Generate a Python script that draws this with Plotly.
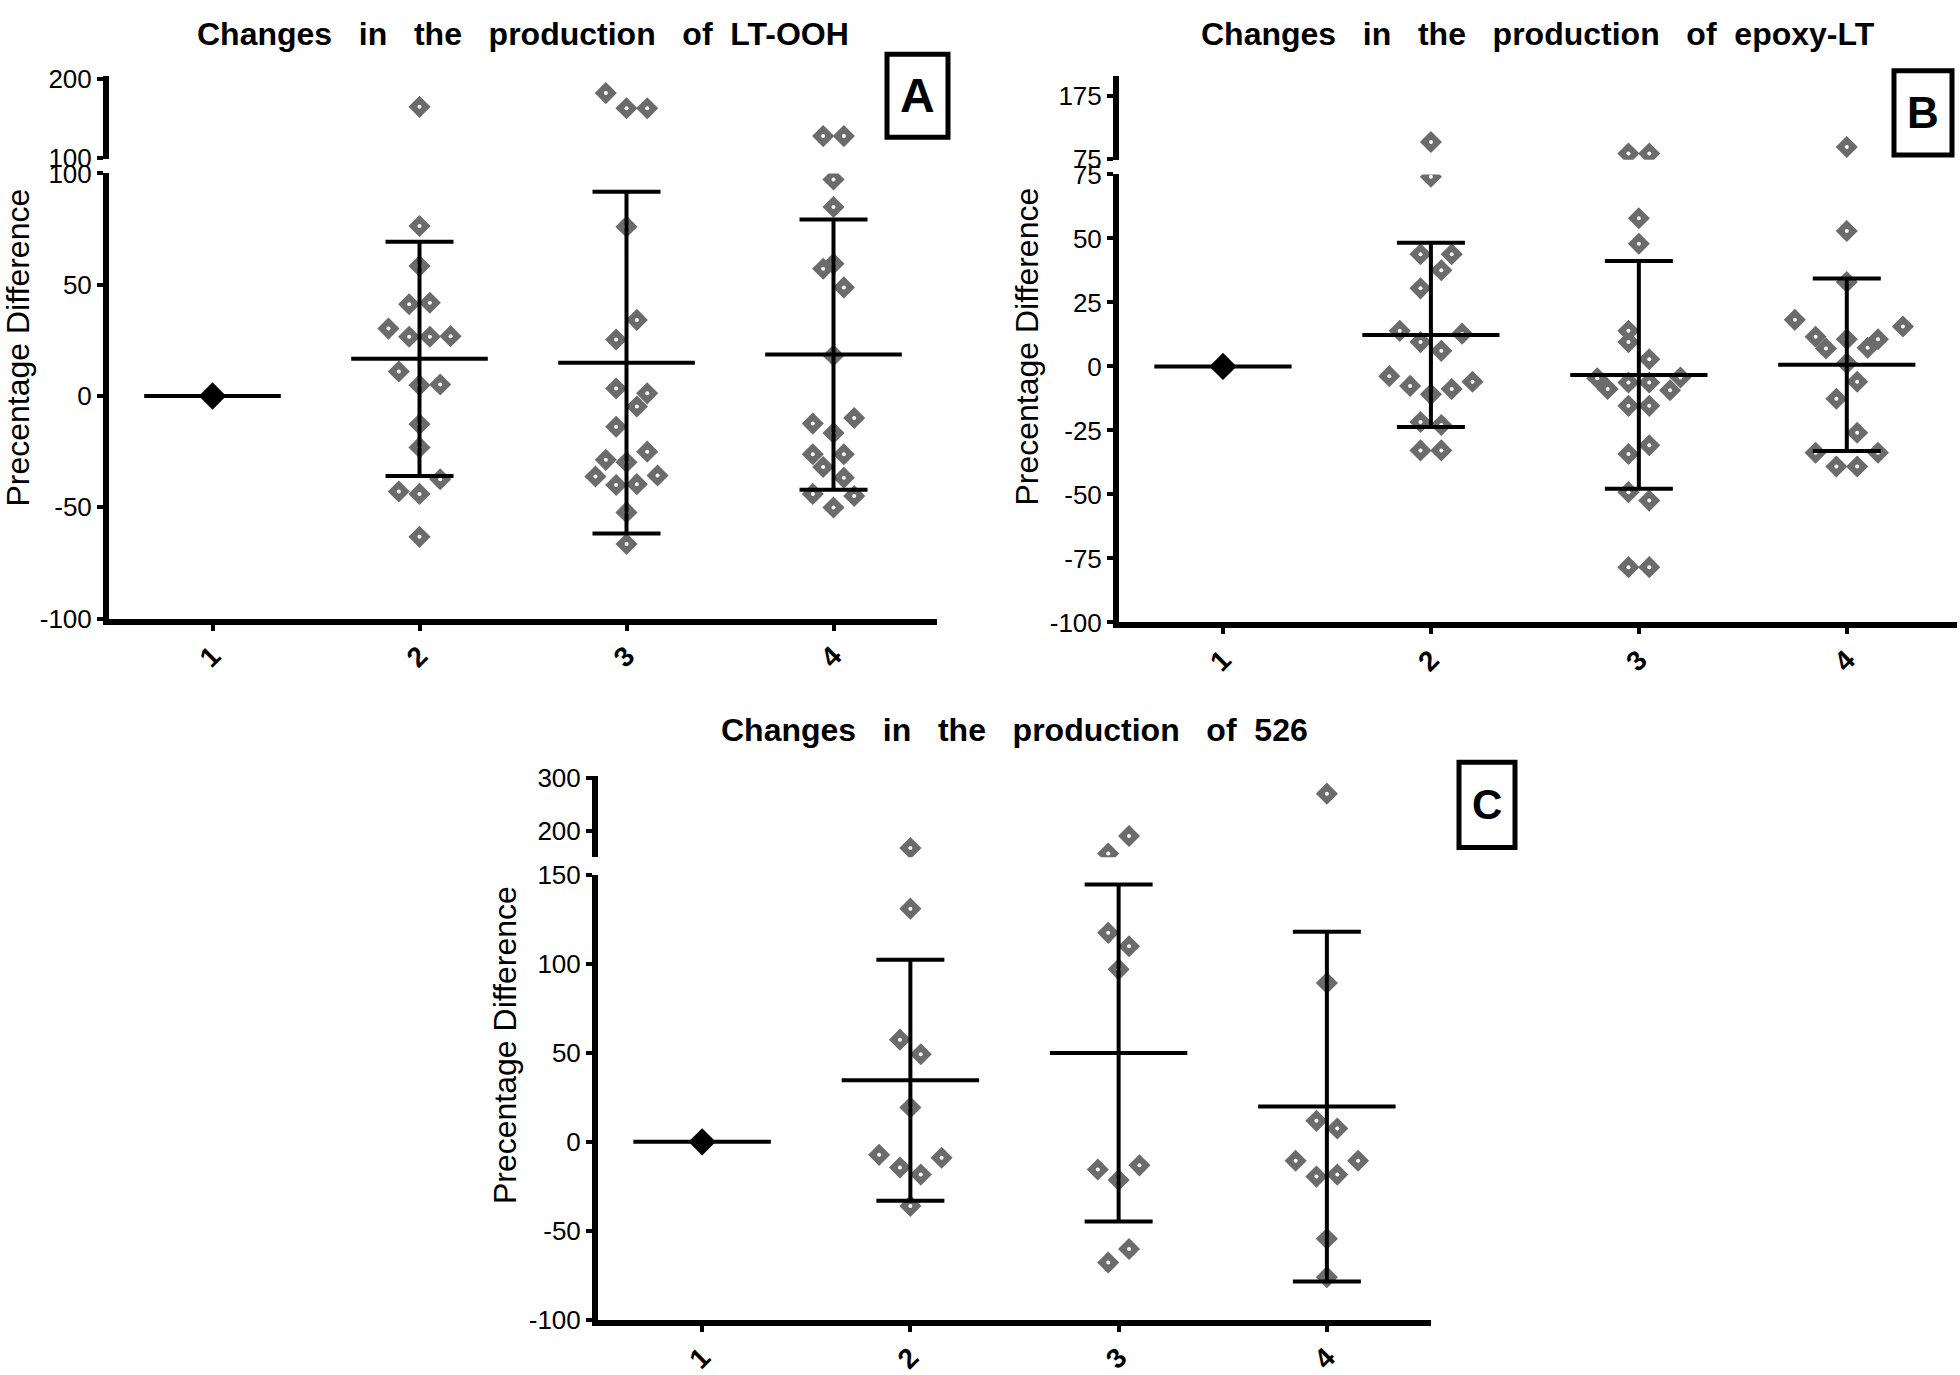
import plotly.graph_objects as go

W, H = 1960, 1375

# ---------------- data ----------------
CATEGORIES = ["1", "2", "3", "4"]
CTRL_VALUE = [0.0]

# Panel A : LT-OOH
A_g2_vals = [164.7, 76.4, 58.4, 41.2, 41.9, 30.3, 26.6, 26.6, 26.9, 11.0, 4.8, 5.2, -12.7, -23.1, -37.4, -42.9, -44.0, -63.3]
A_g2_x = [2.0, 2.0, 2.0, 1.95, 2.05, 1.85, 1.95, 2.05, 2.15, 1.9, 2.0, 2.1, 2.0, 2.0, 2.1, 1.9, 2.0, 2.0]
A_g3_vals = [182.0, 163.0, 163.0, 76.1, 34.2, 25.4, 3.4, 1.2, -4.7, -13.8, -25.0, -28.7, -29.8, -36.2, -35.7, -40.0, -39.6, -52.3, -66.5]
A_g3_x = [2.9, 3.0, 3.1, 3.0, 3.05, 2.95, 2.95, 3.1, 3.05, 2.95, 3.1, 2.9, 3.0, 2.85, 3.15, 2.95, 3.05, 3.0, 3.0]
A_g4_vals = [127.9, 127.9, 97.3, 84.9, 59.4, 57.2, 48.8, 18.2, -9.9, -12.4, -16.6, -26.2, -26.2, -31.9, -36.7, -44.0, -44.9, -50.1]
A_g4_x = [3.95, 4.05, 4.0, 4.0, 4.0, 3.95, 4.05, 4.0, 4.1, 3.9, 4.0, 3.9, 4.05, 3.95, 4.05, 3.9, 4.1, 4.0]
A_mean = [0.0, 16.7, 15.0, 18.6]
A_sd = [0.0, 52.6, 76.8, 60.7]

# Panel B : epoxy-LT
B_g2_vals = [102.3, 74.1, 43.8, 43.8, 37.6, 30.5, 13.9, 12.8, 9.5, 6.1, -3.8, -7.6, -8.8, -6.0, -10.9, -21.7, -22.9, -32.8, -32.8]
B_g2_x = [2.0, 2.0, 1.95, 2.1, 2.05, 1.95, 1.85, 2.15, 1.95, 2.05, 1.8, 1.9, 2.1, 2.2, 2.0, 1.95, 2.05, 1.95, 2.05]
B_g3_vals = [84.1, 84.1, 57.9, 47.9, 13.9, 9.5, 2.8, -4.6, -8.8, -6.3, -6.3, -9.3, -4.3, -15.4, -15.4, -30.8, -34.2, -49.1, -52.4, -78.4, -78.4]
B_g3_x = [2.95, 3.05, 3.0, 3.0, 2.95, 2.95, 3.05, 2.8, 2.85, 2.95, 3.05, 3.15, 3.2, 2.95, 3.05, 3.05, 2.95, 2.95, 3.05, 2.95, 3.05]
B_g4_vals = [94.5, 52.9, 33.0, 18.2, 15.6, 11.6, 10.6, 10.6, 7.0, 7.3, 1.2, -6.0, -12.6, -25.9, -33.7, -33.7, -39.1, -39.1]
B_g4_x = [4.0, 4.0, 4.0, 3.75, 4.27, 3.85, 4.0, 4.15, 3.9, 4.1, 4.0, 4.05, 3.95, 4.05, 3.85, 4.15, 3.95, 4.05]
B_mean = [0.0, 12.3, -3.3, 0.7]
B_sd = [0.0, 36.0, 44.5, 33.7]

# Panel C : 526
C_g2_vals = [166.4, 131.0, 57.4, 49.2, 19.3, -7.3, -8.9, -14.4, -18.4, -36.0]
C_g2_x = [2.0, 2.0, 1.95, 2.05, 2.0, 1.85, 2.15, 1.95, 2.05, 2.0]
C_g3_vals = [189.6, 156.0, 117.4, 109.9, 96.9, -15.5, -13.2, -21.4, -60.2, -67.8]
C_g3_x = [3.05, 2.95, 2.95, 3.05, 3.0, 2.9, 3.1, 3.0, 3.05, 2.95]
C_g4_vals = [270.4, 89.2, 11.8, 7.5, -10.6, -10.6, -19.5, -18.4, -54.4, -76.0]
C_g4_x = [4.0, 4.0, 3.95, 4.05, 3.85, 4.15, 3.95, 4.05, 4.0, 4.0]
C_mean = [0.0, 34.6, 49.9, 19.8]
C_sd = [0.0, 67.7, 94.7, 98.2]

TITLES = ["Changes   in   the   production   of  LT-OOH",
          "Changes   in   the   production   of  epoxy-LT",
          "Changes   in   the   production   of  526"]
LETTERS = ["A", "B", "C"]
Y_TITLE = "Precentage Difference"

A_low_ticks = [-100, -50, 0, 50, 100]
A_up_ticks = [100, 200]
B_low_ticks = [-100, -75, -50, -25, 0, 25, 50, 75]
B_up_ticks = [75, 175]
C_low_ticks = [-100, -50, 0, 50, 100, 150]
C_up_ticks = [200, 300]

# ---------------- styling / layout ----------------
FONT = "Liberation Sans, Arial, Helvetica, sans-serif"
GRAY = "#6b6b6b"
nb = "\u00a0"


def fx(px):
    return px / W


def fy(py):
    return 1 - py / H


panels = [
    dict(vals=[A_g2_vals, A_g3_vals, A_g4_vals], xs=[A_g2_x, A_g3_x, A_g4_x], mean=A_mean, sd=A_sd,
         xdom=(109, 937), low=(162, 617), up=(62, 147), lowr=[-100, 100], upr=[99.3, 204],
         lowt=A_low_ticks, upt=A_up_ticks, brk=100, xr=[0.5, 4.5],
         title_y=19, ytitle=(18, 340), box=(887, 40, 948, 125), letter_size=48),
    dict(vals=[B_g2_vals, B_g3_vals, B_g4_vals], xs=[B_g2_x, B_g3_x, B_g4_x], mean=B_mean, sd=B_sd,
         xdom=(1119, 1957), low=(163, 621), up=(62, 148), lowr=[-100, 75], upr=[74.3, 207],
         lowt=B_low_ticks, upt=B_up_ticks, brk=75, xr=[0.5, 4.53],
         title_y=19, ytitle=(1027, 339), box=(1894, 57, 1952, 143), letter_size=44),
    dict(vals=[C_g2_vals, C_g3_vals, C_g4_vals], xs=[C_g2_x, C_g3_x, C_g4_x], mean=C_mean, sd=C_sd,
         xdom=(598, 1431), low=(879, 1334), up=(778, 861), lowr=[-100, 150], upr=[149, 304],
         lowt=C_low_ticks, upt=C_up_ticks, brk=150, xr=[0.5, 4.5],
         title_y=731, ytitle=(505, 1053), box=(1459, 764, 1515, 851), letter_size=42),
]

fig = go.Figure()
layout = dict(width=W, height=H, margin=dict(l=0, r=0, t=0, b=0),
              paper_bgcolor="white", plot_bgcolor="white", showlegend=False,
              font=dict(family=FONT, color="black"))
annotations = []
shapes = []

for k, p in enumerate(panels):
    li, ui = 2 * k + 1, 2 * k + 2
    lx = "x" if li == 1 else f"x{li}"
    ly = "y" if li == 1 else f"y{li}"
    ux, uy = f"x{ui}", f"y{ui}"
    lxk = "xaxis" if li == 1 else f"xaxis{li}"
    lyk = "yaxis" if li == 1 else f"yaxis{li}"
    uxk, uyk = f"xaxis{ui}", f"yaxis{ui}"

    xdom = [fx(p["xdom"][0]), fx(p["xdom"][1])]
    layout[lxk] = dict(domain=xdom, range=p["xr"], anchor=ly, showgrid=False, zeroline=False,
                       showline=True, linewidth=6, linecolor="black",
                       tickmode="array", tickvals=[1, 2, 3, 4], ticktext=CATEGORIES,
                       ticks="outside", ticklen=6, tickwidth=4, tickcolor="black",
                       tickangle=-45, ticklabelstandoff=-2,
                       tickfont=dict(size=28, family=FONT, color="black", weight="bold"))
    layout[lyk] = dict(domain=[fy(p["low"][1]), fy(p["low"][0])], range=p["lowr"], anchor=lx,
                       showgrid=False, zeroline=False, showline=True, linewidth=6, linecolor="black",
                       tickmode="array", tickvals=p["lowt"], ticktext=[str(v) for v in p["lowt"]],
                       ticks="outside", ticklen=6, tickwidth=4,
                       tickcolor="black", tickfont=dict(size=26, family=FONT, color="black"))
    layout[uxk] = dict(domain=xdom, range=p["xr"], anchor=uy, visible=False, matches=lx)
    layout[uyk] = dict(domain=[fy(p["up"][1]), fy(p["up"][0])], range=p["upr"], anchor=ux,
                       showgrid=False, zeroline=False, showline=True, linewidth=6, linecolor="black",
                       tickmode="array", tickvals=p["upt"], ticktext=[str(v) for v in p["upt"]],
                       ticks="outside", ticklen=6, tickwidth=4,
                       tickcolor="black", tickfont=dict(size=26, family=FONT, color="black"))

    # split points into lower / upper segments of the broken axis
    lo_x, lo_y, up_x, up_y = [], [], [], []
    for xs, vs in zip(p["xs"], p["vals"]):
        for xv, yv in zip(xs, vs):
            if yv > p["brk"]:
                up_x.append(xv); up_y.append(yv)
            else:
                lo_x.append(xv); lo_y.append(yv)

    for xa, ya, X, Y in [(lx, ly, lo_x, lo_y), (ux, uy, up_x, up_y)]:
        fig.add_trace(go.Scatter(x=X, y=Y, xaxis=xa, yaxis=ya, mode="markers",
                                 marker=dict(symbol="diamond", size=17, color=GRAY,
                                             line=dict(width=0)), hoverinfo="skip"))
        fig.add_trace(go.Scatter(x=X, y=Y, xaxis=xa, yaxis=ya, mode="markers",
                                 marker=dict(symbol="circle", size=4, color="white",
                                             line=dict(width=0)), hoverinfo="skip"))

    # control group (black diamond)
    fig.add_trace(go.Scatter(x=[1] * len(CTRL_VALUE), y=CTRL_VALUE, xaxis=lx, yaxis=ly, mode="markers",
                             marker=dict(symbol="diamond", size=21, color="black", line=dict(width=0)),
                             hoverinfo="skip"))

    # mean lines
    mx, my = [], []
    for i, m in enumerate(p["mean"]):
        c = i + 1
        mx += [c - 0.33, c + 0.33, None]
        my += [m, m, None]
    fig.add_trace(go.Scatter(x=mx, y=my, xaxis=lx, yaxis=ly, mode="lines",
                             line=dict(color="black", width=4), hoverinfo="skip"))

    # SD error bars (groups 2-4)
    fig.add_trace(go.Scatter(x=[2, 3, 4], y=p["mean"][1:], xaxis=lx, yaxis=ly, mode="markers",
                             marker=dict(size=1, color="rgba(0,0,0,0)"),
                             error_y=dict(type="data", array=p["sd"][1:], visible=True,
                                          color="black", thickness=4, width=34),
                             hoverinfo="skip"))

    # title
    annotations.append(dict(text=TITLES[k].replace(" ", nb), xref="paper", yref="paper",
                            x=(xdom[0] + xdom[1]) / 2, y=fy(p["title_y"]),
                            xanchor="center", yanchor="middle", showarrow=False,
                            font=dict(size=32, family=FONT, color="black", weight="bold")))
    # y title
    annotations.append(dict(text=Y_TITLE, xref="paper", yref="paper",
                            x=fx(p["ytitle"][0]), y=fy(p["ytitle"][1]), textangle=-90,
                            xanchor="center", yanchor="middle", showarrow=False,
                            font=dict(size=32, family=FONT, color="black")))
    # panel letter box
    bx0, by0, bx1, by1 = p["box"]
    shapes.append(dict(type="rect", xref="paper", yref="paper",
                       x0=fx(bx0), x1=fx(bx1), y0=fy(by1), y1=fy(by0),
                       line=dict(color="black", width=5), fillcolor="rgba(0,0,0,0)"))
    annotations.append(dict(text=LETTERS[k], xref="paper", yref="paper",
                            x=fx((bx0 + bx1) / 2), y=fy((by0 + by1) / 2),
                            xanchor="center", yanchor="middle", showarrow=False,
                            font=dict(size=p["letter_size"], family=FONT, color="black", weight="bold")))

layout["annotations"] = annotations
layout["shapes"] = shapes
fig.update_layout(**layout)

# remove the default 8px page margin so the 1960x1375 figure fills the window exactly
POST = ("document.documentElement.style.margin='0';document.body.style.margin='0';"
        "document.body.style.overflow='hidden';document.documentElement.style.overflow='hidden';")
fig.write_html("out.html", post_script=POST, config={"displayModeBar": False})
